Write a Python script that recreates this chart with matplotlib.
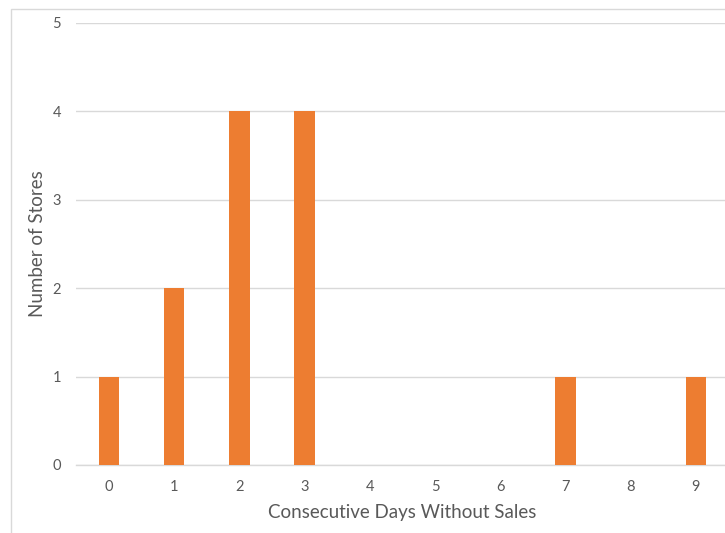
import matplotlib
matplotlib.use("Agg")
import matplotlib.pyplot as plt
from matplotlib.patches import Rectangle

days = [0, 1, 2, 3, 4, 5, 6, 7, 8, 9]
stores = [1, 2, 4, 4, 0, 0, 0, 1, 0, 1]
y_ticks = [0, 1, 2, 3, 4, 5]

BAR = "#ED7D31"
GRID = "#D9D9D9"
TEXT = "#595959"
FONT = ["Lato", "DejaVu Sans"]

W, H = 725, 533
fig = plt.figure(figsize=(W / 100, H / 100), dpi=100)

# chart frame (extends past the right and bottom edges)
fig.patches.append(Rectangle((11 / W, -0.1), 1.2, (H - 9) / H + 0.1,
                             transform=fig.transFigure, fill=False,
                             edgecolor=GRID, linewidth=1.0))

left, right = 76.4 / W, 728.4 / W
bottom, top = (H - 465) / H, (H - 23) / H
ax = fig.add_axes([left, bottom, right - left, top - bottom])

ax.bar(days, stores, width=0.31, color=BAR, zorder=3)
ax.set_xlim(-0.5, 9.5)
ax.set_ylim(0, 5)
ax.set_xticks(days)
ax.set_yticks(y_ticks)
ax.yaxis.grid(True, color=GRID, linewidth=1.0, zorder=0)
ax.set_axisbelow(True)
for s in ["top", "right", "left"]:
    ax.spines[s].set_visible(False)
ax.spines["bottom"].set_color(GRID)
ax.spines["bottom"].set_linewidth(1.0)
ax.tick_params(axis="both", length=0, colors=TEXT, labelsize=10.5)
ax.tick_params(axis="x", pad=11)
ax.tick_params(axis="y", pad=11)
for lbl in ax.get_xticklabels() + ax.get_yticklabels():
    lbl.set_family(FONT)

ax.set_xlabel("Consecutive Days Without Sales", color=TEXT, fontsize=13.5,
              family=FONT, labelpad=7)
ax.set_ylabel("Number of Stores", color=TEXT, fontsize=13.5,
              family=FONT, labelpad=5)

fig.savefig("out.png", dpi=100)
